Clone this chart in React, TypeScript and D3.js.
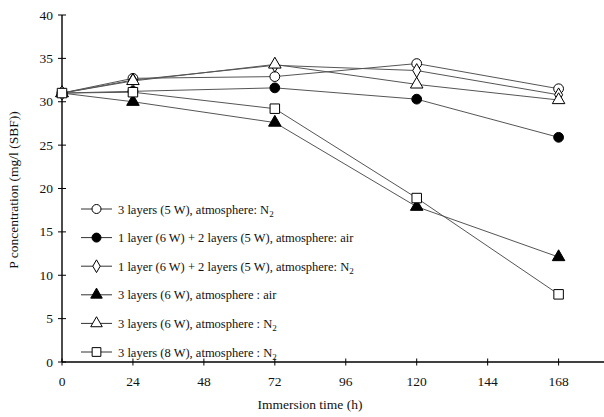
import React, { useEffect, useRef } from "react";
import * as d3 from "d3";

// immersion times (h)
const hours = [0, 24, 72, 120, 168];
const xTicks = [0, 24, 48, 72, 96, 120, 144, 168];
const yTicks = [0, 5, 10, 15, 20, 25, 30, 35, 40];

// P concentration series, mg/l (SBF)
const openCircle = [31, 32.7, 32.9, 34.4, 31.5];
const filledCircle = [31, 31.2, 31.6, 30.3, 25.9];
const openDiamond = [31, 32.5, 34.2, 33.6, 30.8];
const filledTriangle = [31, 30.0, 27.6, 17.9, 12.1];
const openTriangle = [31, 32.4, 34.3, 32.0, 30.2];
const openSquare = [31, 31.1, 29.2, 18.9, 7.8];

const seriesNames = [
  ["3 layers (5 W), atmosphere: N", "2"],
  ["1 layer (6 W) + 2 layers (5 W), atmosphere: air", ""],
  ["1 layer (6 W) + 2 layers (5 W), atmosphere: N", "2"],
  ["3 layers (6 W), atmosphere : air", ""],
  ["3 layers (6 W), atmosphere : N", "2"],
  ["3 layers (8 W), atmosphere : N", "2"],
];
const seriesValues = [openCircle, filledCircle, openDiamond, filledTriangle, openTriangle, openSquare];
const symbols = [
  { type: d3.symbolCircle, fill: "#fff", size: 75 },
  { type: d3.symbolCircle, fill: "#000", size: 75 },
  { type: d3.symbolDiamond, fill: "#fff", size: 55 },
  { type: d3.symbolTriangle, fill: "#000", size: 68 },
  { type: d3.symbolTriangle, fill: "#fff", size: 68 },
  { type: d3.symbolSquare, fill: "#fff", size: 90 },
];

const W = 604, H = 417;
const FONT = "Liberation Serif, Times New Roman, serif";

export default function App() {
  const ref = useRef<SVGSVGElement>(null);

  useEffect(() => {
    const svg = d3.select(ref.current);
    svg.selectAll("*").remove();

    const x = d3.scaleLinear().domain([0, 168]).range([62, 558.6]);
    const y = d3.scaleLinear().domain([0, 40]).range([362, 15]);

    // axes
    const g = svg.append("g").attr("stroke", "#000").attr("stroke-width", 1.4);
    g.append("line").attr("x1", x(0)).attr("x2", W).attr("y1", y(0)).attr("y2", y(0));
    g.append("line").attr("x1", x(0)).attr("x2", x(0)).attr("y1", y(0)).attr("y2", y(40));

    g.selectAll(".xt").data(xTicks).join("line")
      .attr("x1", d => x(d)).attr("x2", d => x(d))
      .attr("y1", y(0) - 3.5).attr("y2", y(0) + 3.5).attr("stroke-width", 1);
    g.selectAll(".yt").data(yTicks).join("line")
      .attr("x1", x(0) - 4).attr("x2", x(0) + 4)
      .attr("y1", d => y(d)).attr("y2", d => y(d)).attr("stroke-width", 1);

    svg.selectAll(".xl").data(xTicks).join("text")
      .attr("x", d => x(d)).attr("y", 386)
      .attr("text-anchor", "middle")
      .attr("font-family", FONT).attr("font-size", 13.5).attr("fill", "#111")
      .text(d => d);
    svg.selectAll(".yl").data(yTicks).join("text")
      .attr("x", 53).attr("y", d => y(d) + 4.5)
      .attr("text-anchor", "end")
      .attr("font-family", FONT).attr("font-size", 13.5).attr("fill", "#111")
      .text(d => d);

    svg.append("text")
      .attr("x", 310).attr("y", 409).attr("text-anchor", "middle")
      .attr("font-family", FONT).attr("font-size", 13.5).attr("fill", "#111")
      .text("Immersion time (h)");
    svg.append("text")
      .attr("transform", `translate(18, 190) rotate(-90)`)
      .attr("text-anchor", "middle")
      .attr("font-family", FONT).attr("font-size", 13.5).attr("fill", "#111")
      .text("P concentration (mg/l (SBF))");

    // lines
    const line = d3.line<number>().x((d, i) => x(hours[i])).y(d => y(d));
    seriesValues.forEach(vals => {
      svg.append("path").attr("d", line(vals)!)
        .attr("fill", "none").attr("stroke", "#555").attr("stroke-width", 1);
    });

    // markers
    seriesValues.forEach((vals, s) => {
      const sym = d3.symbol().type(symbols[s].type).size(symbols[s].size);
      svg.append("g").selectAll("path").data(vals).join("path")
        .attr("d", sym()!)
        .attr("transform", (d, i) => `translate(${x(hours[i])},${y(d)})`)
        .attr("fill", symbols[s].fill).attr("stroke", "#000").attr("stroke-width", 1);
    });

    // legend
    const leg = svg.append("g");
    seriesNames.forEach((name, i) => {
      const ly = 209 + i * 28.6;
      const row = leg.append("g").attr("transform", `translate(0, ${ly})`);
      row.append("line").attr("x1", 81).attr("x2", 112).attr("y1", 0).attr("y2", 0)
        .attr("stroke", "#333").attr("stroke-width", 1);
      const sym = d3.symbol().type(symbols[i].type).size(symbols[i].size * 0.85);
      row.append("path").attr("d", sym()!).attr("transform", "translate(96.5, 0)")
        .attr("fill", symbols[i].fill).attr("stroke", "#000").attr("stroke-width", 1);
      const t = row.append("text").attr("x", 118).attr("y", 4.5)
        .attr("font-family", FONT).attr("font-size", 12.5).attr("fill", "#111");
      t.append("tspan").text(name[0]);
      if (name[1]) {
        t.append("tspan").attr("dy", 3.5).attr("font-size", 9).text(name[1]);
      }
    });
  }, []);

  return (
    <svg ref={ref} width={W} height={H}
      style={{ position: "absolute", left: 0, top: 0, background: "#fff" }} />
  );
}
